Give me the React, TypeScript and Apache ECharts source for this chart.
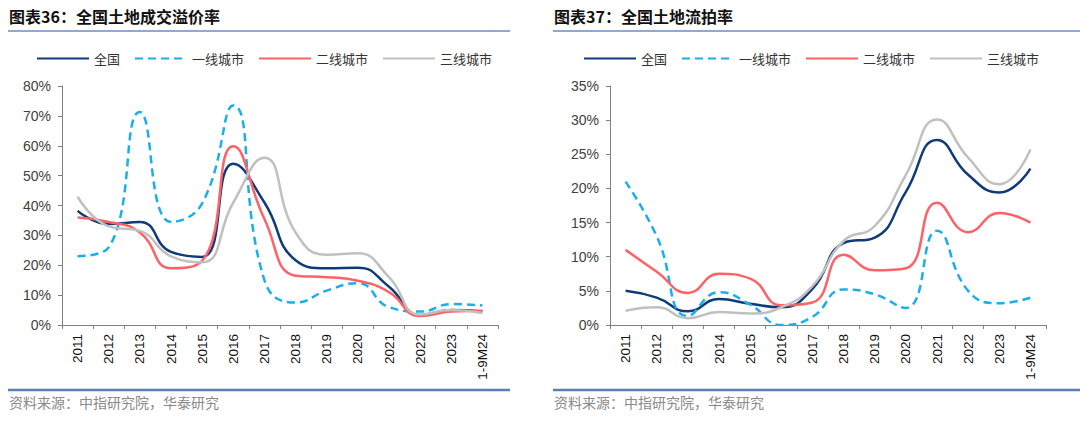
import React, { useEffect, useRef } from "react";
import * as echarts from "echarts";

const categories = ["2011","2012","2013","2014","2015","2016","2017","2018","2019","2020","2021","2022","2023","1-9M24"];
const seriesNames = ["全国", "一线城市", "二线城市", "三线城市"];

// 图表36：全国土地成交溢价率 (%)
const premiumNational = [38.2, 33.8, 34.5, 24.5, 22.8, 54.0, 41.0, 21.7, 19.0, 19.2, 12.8, 3.3, 5.0, 4.5];
const premiumTier1 = [23.0, 26.0, 71.3, 34.5, 40.7, 73.5, 15.0, 7.5, 11.5, 14.0, 6.0, 4.5, 7.0, 6.5];
const premiumTier2 = [36.0, 34.5, 31.0, 19.0, 21.5, 59.8, 35.5, 16.5, 16.0, 14.8, 11.0, 3.0, 4.5, 4.8];
const premiumTier3 = [43.0, 33.0, 31.5, 23.0, 21.0, 41.0, 56.0, 31.0, 23.5, 24.0, 16.0, 3.5, 5.0, 4.0];

// 图表37：全国土地流拍率 (%)
const unsoldNational = [5.0, 4.0, 2.0, 3.8, 3.1, 2.6, 5.3, 12.0, 12.8, 19.5, 27.1, 22.0, 19.4, 22.9];
const unsoldTier1 = [21.0, 13.0, 1.3, 4.8, 3.0, 0.0, 1.2, 5.2, 4.5, 2.5, 13.8, 5.0, 3.2, 4.0];
const unsoldTier2 = [11.0, 7.8, 4.7, 7.5, 6.8, 2.9, 3.3, 10.3, 8.0, 8.3, 17.9, 13.6, 16.4, 15.0];
const unsoldTier3 = [2.1, 2.6, 1.0, 1.9, 1.7, 2.6, 5.7, 12.3, 14.5, 22.0, 30.1, 24.5, 20.6, 25.7];

const leftTicks = { max: 80, interval: 10 };
const rightTicks = { max: 35, interval: 5 };

const colors = ["#0f3b7a", "#1aaeea", "#ff6266", "#c0c0c0"];
const dashed = [false, true, false, false];

const CJK = "'Noto Sans CJK SC', 'Noto Sans', sans-serif";
const LATIN = "'Liberation Sans', Arial, sans-serif";

function makeSeries(data: number[][], axisIndex: number) {
  return data.map((d, i) => ({
    name: seriesNames[i],
    type: "line",
    xAxisIndex: axisIndex,
    yAxisIndex: axisIndex,
    data: d,
    smooth: 0.5,
    symbol: "none",
    lineStyle: {
      color: colors[i],
      width: 2.5,
      type: dashed[i] ? [8, 5] : "solid",
      cap: "butt",
    },
    itemStyle: { color: colors[i] },
    z: 2 + i,
  }));
}

function xAxis(gridIndex: number) {
  return {
    type: "category",
    gridIndex,
    data: categories,
    boundaryGap: true,
    axisLine: { lineStyle: { color: "#808080", width: 1 } },
    axisTick: { show: true, length: 4, lineStyle: { color: "#808080" } },
    axisLabel: {
      rotate: 90,
      interval: 0,
      margin: 9,
      fontSize: 13.5,
      fontFamily: LATIN,
      color: "#111",
    },
    splitLine: { show: false },
  };
}

function yAxis(gridIndex: number, t: { max: number; interval: number }) {
  return {
    type: "value",
    gridIndex,
    min: 0,
    max: t.max,
    interval: t.interval,
    axisLine: { show: true, lineStyle: { color: "#808080", width: 1 } },
    axisTick: { show: true, length: 4, lineStyle: { color: "#808080" } },
    axisLabel: {
      formatter: "{value}%",
      margin: 11,
      fontSize: 14,
      fontFamily: LATIN,
      color: "#404040",
    },
    splitLine: { show: false },
  };
}

function legend(left: number) {
  return {
    left,
    top: 47,
    itemWidth: 52,
    itemHeight: 14,
    itemGap: 14,
    data: seriesNames,
    itemStyle: { opacity: 0 },
    textStyle: { fontSize: 13, fontFamily: CJK, color: "#333" },
  };
}

function panelGraphics(x: number, lineEnd: number, title: string) {
  return [
    {
      type: "text",
      left: x,
      top: 8,
      style: { text: title, font: `bold 16px ${CJK}`, fill: "#111" },
    },
    {
      type: "line",
      shape: { x1: x - 1, y1: 31, x2: lineEnd, y2: 31 },
      style: { stroke: "#6b8cc0", lineWidth: 1.5 },
    },
    {
      type: "line",
      shape: { x1: x - 1, y1: 390, x2: lineEnd, y2: 390 },
      style: { stroke: "#5b7db5", lineWidth: 2.5 },
    },
    {
      type: "text",
      left: x,
      top: 395,
      style: { text: "资料来源：中指研究院，华泰研究", font: `14px ${CJK}`, fill: "#8a8a8a" },
    },
  ];
}

export default function App() {
  const ref = useRef<HTMLDivElement>(null);
  useEffect(() => {
    if (!ref.current) return;
    const chart = echarts.init(ref.current, null, { renderer: "svg" });
    chart.setOption({
      animation: false,
      backgroundColor: "#ffffff",
      grid: [
        { left: 62, top: 86, width: 436, height: 239 },
        { left: 610, top: 86, width: 436, height: 239 },
      ],
      legend: [legend(31), legend(578)],
      xAxis: [xAxis(0), xAxis(1)],
      yAxis: [yAxis(0, leftTicks), yAxis(1, rightTicks)],
      series: [
        ...makeSeries([premiumNational, premiumTier1, premiumTier2, premiumTier3], 0),
        ...makeSeries([unsoldNational, unsoldTier1, unsoldTier2, unsoldTier3], 1),
      ],
      graphic: [
        ...panelGraphics(9, 510, "图表36：全国土地成交溢价率"),
        ...panelGraphics(554, 1080, "图表37：全国土地流拍率"),
      ],
    });
    return () => chart.dispose();
  }, []);
  return (
    <div
      ref={ref}
      style={{ position: "absolute", left: 0, top: 0, width: 1080, height: 422 }}
    />
  );
}
